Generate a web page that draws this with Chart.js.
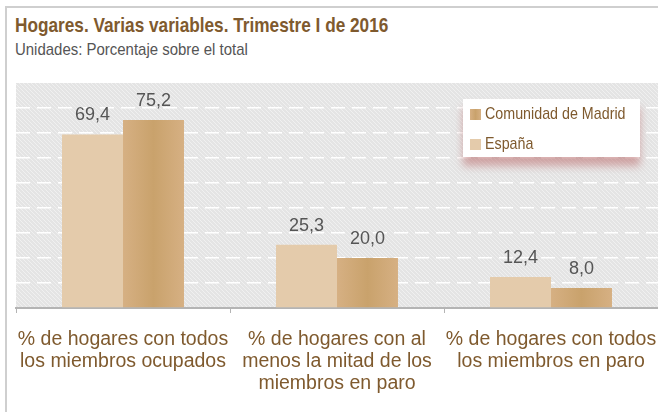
<!DOCTYPE html>
<html>
<head>
<meta charset="utf-8">
<script src="https://cdn.jsdelivr.net/npm/chart.js@4.4.1/dist/chart.umd.min.js"></script>
<style>
  html, body { margin:0; padding:0; background:#fff; }
  body { width:658px; height:412px; position:relative; overflow:hidden; }
  #frame { position:absolute; left:5px; top:6px; width:700px; height:450px; border-left:2px solid #cfcfcf; border-top:2px solid #cfcfcf; }
  #title { position:absolute; left:15px; top:13px; font-family:"Liberation Sans",Arial,sans-serif; font-weight:bold; font-size:21px; color:#7f5a2e; white-space:nowrap; transform:scaleX(0.82); transform-origin:0 0; }
  #subtitle { position:absolute; left:15px; top:40px; font-family:"Liberation Sans",Arial,sans-serif; font-size:17px; color:#555; white-space:nowrap; transform:scaleX(0.88); transform-origin:0 0; }
  #wrap { position:absolute; left:0; top:0; width:658px; height:412px; }
</style>
</head>
<body>
<div id="frame"></div>
<div id="title">Hogares. Varias variables. Trimestre I de 2016</div>
<div id="subtitle">Unidades: Porcentaje sobre el total</div>
<div id="wrap"><canvas id="c" width="658" height="412"></canvas></div>
<script>
const categories = [
  ["% de hogares con todos", "los miembros ocupados"],
  ["% de hogares con al", "menos la mitad de los", "miembros en paro"],
  ["% de hogares con todos", "los miembros en paro"]
];
const espana = [69.4, 25.3, 12.4];
const madrid = [75.2, 20.0, 8.0];
const seriesNames = ["España", "Comunidad de Madrid"];
const yMax = 90;
const yStep = 10;

const CAT_PCT = 0.57;

function makePattern(ctx) {
  const p = document.createElement('canvas');
  p.width = 4; p.height = 4;
  const g = p.getContext('2d');
  g.fillStyle = '#e4e4e4'; g.fillRect(0,0,4,4);
  g.fillStyle = '#f0f0f0';
  g.fillRect(0,0,1,1); g.fillRect(2,2,1,1); g.fillRect(1,1,1,1); g.fillRect(3,3,1,1);
  return ctx.createPattern(p, 'repeat');
}

function madridGradient(ctx, x0, x1) {
  if (!isFinite(x0) || !isFinite(x1)) return '#cfa874';
  const g = ctx.createLinearGradient(x0, 0, x1, 0);
  g.addColorStop(0, '#d6b083');
  g.addColorStop(0.5, '#c9a26c');
  g.addColorStop(1, '#d6b083');
  return g;
}

const bgPlugin = {
  id: 'bg',
  beforeDraw(chart) {
    const {ctx, chartArea:a} = chart;
    ctx.save();
    ctx.fillStyle = makePattern(ctx);
    ctx.fillRect(a.left, a.top, a.right - a.left, a.bottom - a.top);
    ctx.restore();
  }
};

const labelPlugin = {
  id: 'vals',
  afterDatasetsDraw(chart) {
    const {ctx} = chart;
    ctx.save();
    ctx.font = '18px "Liberation Sans", Arial, sans-serif';
    ctx.fillStyle = '#555';
    ctx.textAlign = 'center';
    ctx.textBaseline = 'middle';
    chart.data.datasets.forEach((ds, di) => {
      chart.getDatasetMeta(di).data.forEach((el, i) => {
        ctx.fillText(ds.data[i].toFixed(1).replace('.', ','), el.x, el.y - 19);
      });
    });
    ctx.restore();
  }
};

const legendPlugin = {
  id: 'boxLegend',
  afterDraw(chart) {
    const {ctx} = chart;
    const x = 463, y = 99, w = 177, h = 58;
    ctx.save();
    ctx.shadowColor = 'rgba(185,110,110,0.55)';
    ctx.shadowBlur = 8;
    ctx.shadowOffsetY = 9;
    ctx.fillStyle = '#fff';
    ctx.fillRect(x, y, w, h);
    ctx.restore();
    ctx.save();
    ctx.textBaseline = 'middle';
    const order = [1, 0];
    order.forEach((di, k) => {
      const ds = chart.data.datasets[di];
      const cy = y + 15 + k * 30;
      ctx.fillStyle = di === 1 ? madridGradient(ctx, x + 7, x + 18) : '#e4cbab';
      ctx.fillRect(x + 7, cy - 5, 11, 11);
      ctx.save();
      ctx.translate(x + 22, cy);
      ctx.scale(0.84, 1);
      ctx.font = '17px "Liberation Sans", Arial, sans-serif';
      ctx.fillStyle = '#7f5a2e';
      ctx.fillText(ds.label, 0, 0);
      ctx.restore();
    });
    ctx.restore();
  }
};

new Chart(document.getElementById('c'), {
  type: 'bar',
  data: {
    labels: categories,
    datasets: [
      { label: seriesNames[0], data: espana, backgroundColor: '#e4cbab',
        categoryPercentage: CAT_PCT, barPercentage: 1 },
      { label: seriesNames[1], data: madrid,
        backgroundColor: (c) => {
          const xs = c.chart.scales.x;
          if (!xs || c.dataIndex === undefined || !isFinite(xs.width) || xs.width <= 0) return '#cfa874';
          const cw = xs.width / c.chart.data.labels.length;
          const center = xs.getPixelForValue(c.dataIndex) + cw * CAT_PCT / 4;
          const half = cw * CAT_PCT / 4;
          return madridGradient(c.chart.ctx, center - half, center + half);
        },
        categoryPercentage: CAT_PCT, barPercentage: 1 }
    ]
  },
  options: {
    responsive: false,
    animation: false,
    events: [],
    layout: { padding: { left: 16, right: 0, top: 83, bottom: 0 } },
    plugins: { legend: { display: false }, tooltip: { enabled: false }, title: { display: false } },
    scales: {
      x: {
        afterFit(s) { s.height = 104; s.paddingLeft = 0; s.paddingRight = 0; },
        border: { color: '#b4b4b4', width: 2 },
        grid: { display: true, drawOnChartArea: false, drawTicks: true, tickLength: 5, color: '#b4b4b4', offset: true },
        ticks: { color: '#7f5a2e', padding: 16, maxRotation: 0, autoSkip: false,
          font: { family: '"Liberation Sans", Arial, sans-serif', size: 19.5, lineHeight: 1.13 } }
      },
      y: {
        display: true,
        min: 0, max: yMax,
        afterFit(s) { s.width = 0; s.paddingTop = 0; s.paddingBottom = 0; },
        ticks: { display: false, stepSize: yStep },
        grid: {
          drawTicks: false,
          color: (c) => (c.tick.value > 0 && c.tick.value < yMax) ? '#ffffff' : 'rgba(0,0,0,0)',
          lineWidth: 1.5
        },
        border: { display: false, dash: [14, 7] }
      }
    }
  },
  plugins: [bgPlugin, labelPlugin, legendPlugin]
});
</script>
</body>
</html>
